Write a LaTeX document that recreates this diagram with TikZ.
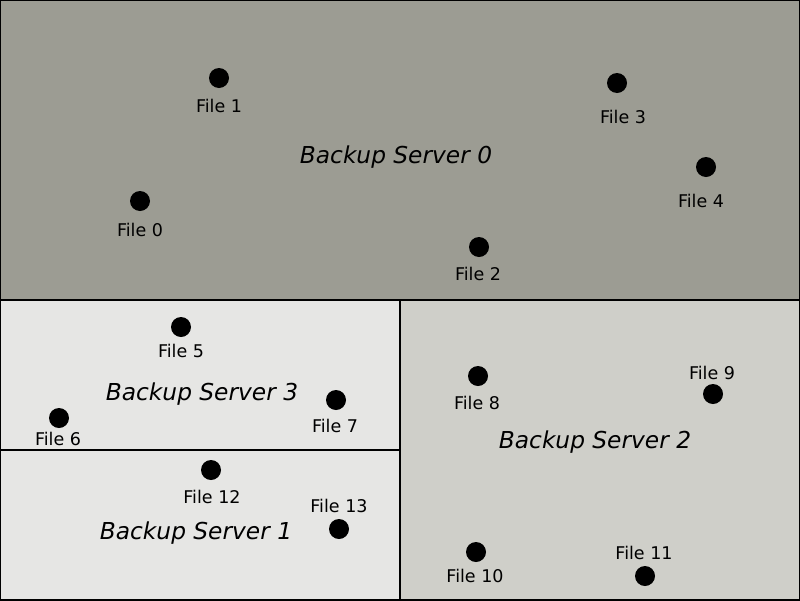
\documentclass[tikz,border=0pt]{standalone}
\usepackage{fontspec}
\setmainfont{DejaVu Sans}
\begin{document}
\begin{tikzpicture}[x=1pt,y=-1pt,
  dot/.style={circle,fill=black,inner sep=0pt,minimum size=20pt},
  flabel/.style={inner sep=0pt,font=\fontsize{17.5}{20}\selectfont},
  slabel/.style={inner sep=0pt,font=\fontsize{23.3}{28}\selectfont\itshape},
  region/.style={draw=black,line width=2pt}]
\useasboundingbox (0,0) rectangle (800,600);
\definecolor{topc}{HTML}{9C9C93}
\definecolor{leftc}{HTML}{E6E6E4}
\definecolor{rightc}{HTML}{CFCFC9}
\fill[topc] (0,0) rectangle (800,300);
\fill[leftc] (0,300) rectangle (400,600);
\fill[rightc] (400,300) rectangle (800,600);
\draw[region] (0,300) -- (800,300);
\draw[region] (400,300) -- (400,600);
\draw[region] (0,450) -- (400,450);
\draw[black,line width=2pt] (0,0) rectangle (800,600);
% server 0
\node[slabel] (s0) at (396,157) {Backup Server 0};
\node[dot] (d1) at (219,78) {};  \node[flabel] (l1) at (219,106) {File 1};
\node[dot] (d3) at (617,83) {};  \node[flabel] (l3) at (623,117) {File 3};
\node[dot] (d4) at (706,167) {}; \node[flabel] (l4) at (701,201) {File 4};
\node[dot] (d0) at (140,201) {}; \node[flabel] (l0) at (140,230) {File 0};
\node[dot] (d2) at (479,247) {}; \node[flabel] (l2) at (478,274) {File 2};
% server 3
\node[slabel] (s3) at (202,394) {Backup Server 3};
\node[dot] (d5) at (181,327) {}; \node[flabel] (l5) at (181,351) {File 5};
\node[dot] (d7) at (336,400) {}; \node[flabel] (l7) at (335,426) {File 7};
\node[dot] (d6) at (59,418) {};  \node[flabel] (l6) at (58,439) {File 6};
% server 2
\node[slabel] (s2) at (595,442) {Backup Server 2};
\node[dot] (d8) at (478,376) {}; \node[flabel] (l8) at (477,403) {File 8};
\node[dot] (d9) at (713,394) {}; \node[flabel] (l9) at (712,373) {File 9};
\node[dot] (d10) at (476,552) {}; \node[flabel] (l10) at (475,576) {File 10};
\node[dot] (d11) at (645,576) {}; \node[flabel] (l11) at (644,553) {File 11};
% server 1
\node[slabel] (s1) at (196,533) {Backup Server 1};
\node[dot] (d12) at (211,470) {}; \node[flabel] (l12) at (212,497) {File 12};
\node[dot] (d13) at (339,529) {}; \node[flabel] (l13) at (339,506) {File 13};
\end{tikzpicture}
\end{document}
